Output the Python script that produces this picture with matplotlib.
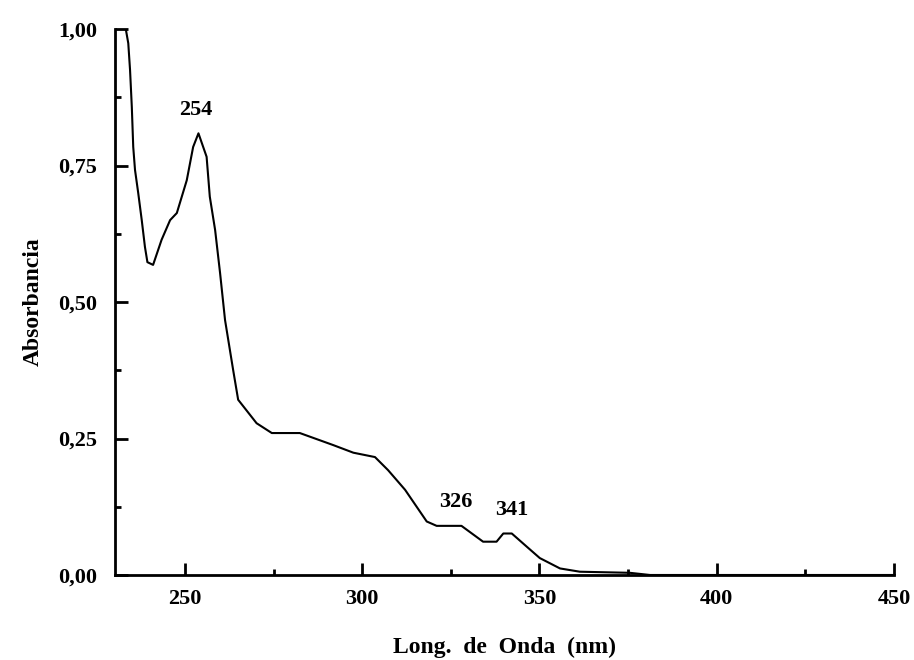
import matplotlib
matplotlib.use("Agg")
import matplotlib.pyplot as plt
from matplotlib.ticker import MultipleLocator, FuncFormatter

# espectro UV
wavelength = [233.35, 234.0, 234.5, 235.0, 235.4, 235.9, 236.8, 237.8, 238.7, 239.4,
              241.0, 243.4, 245.8, 247.7, 250.5, 252.3, 253.8, 256.1, 257.0, 258.5,
              259.9, 261.3, 263.6, 265.0, 270.2, 274.5, 282.4, 291.8, 297.5, 303.6,
              307.3, 312.1, 318.2, 321.0, 328.0, 334.1, 337.9, 339.8, 342.2, 346.4,
              350.1, 355.8, 361.4, 375.5, 381.2, 450.0]
absorb = [0.998, 0.974, 0.925, 0.857, 0.784, 0.742, 0.700, 0.650, 0.601, 0.573,
          0.568, 0.614, 0.650, 0.663, 0.723, 0.784, 0.809, 0.766, 0.693, 0.632,
          0.553, 0.467, 0.375, 0.321, 0.278, 0.260, 0.260, 0.238, 0.224, 0.216,
          0.192, 0.156, 0.098, 0.090, 0.090, 0.061, 0.061, 0.076, 0.076, 0.052,
          0.031, 0.012, 0.006, 0.004, 0.0, 0.0]

peaks = ['254', '326', '341']
peak_x = [253.1, 326.3, 342.2]
peak_y = [0.852, 0.134, 0.119]

plt.rcParams['font.family'] = ['Liberation Serif', 'DejaVu Serif']
plt.rcParams['font.weight'] = 'bold'

fig = plt.figure(figsize=(9.14, 6.6), dpi=100)
ax = fig.add_axes([0.1258, 0.1288, 0.978 - 0.1258, 0.956 - 0.1288])

ax.plot(wavelength, absorb, color='black', linewidth=1.5)
for lab, px, py in zip(peaks, peak_x, peak_y):
    ax.text(px, py, lab, ha='center', va='center', fontsize=16, fontweight='bold')

ax.set_xlim(230.25, 450)
ax.set_ylim(0, 1.0)
ax.spines['top'].set_visible(False)
ax.spines['right'].set_visible(False)
ax.spines['left'].set_linewidth(2)
ax.spines['bottom'].set_linewidth(2)

ax.xaxis.set_major_locator(MultipleLocator(50))
ax.xaxis.set_minor_locator(MultipleLocator(25))
ax.yaxis.set_major_locator(MultipleLocator(0.25))
ax.yaxis.set_minor_locator(MultipleLocator(0.125))
ax.yaxis.set_major_formatter(FuncFormatter(lambda v, p: f"{v:.2f}".replace('.', ',')))
ax.tick_params(which='major', direction='in', length=9, width=2, labelsize=16, pad=10)
ax.tick_params(which='minor', direction='in', length=4, width=2)
ax.tick_params(axis='y', pad=13)
for t in ax.get_xticklabels() + ax.get_yticklabels():
    t.set_fontweight('bold')

ax.set_xlabel('Long.  de  Onda  (nm)', fontsize=17, fontweight='bold', labelpad=20)
ax.set_ylabel('Absorbancia', fontsize=17, fontweight='bold', labelpad=10)

fig.savefig('out.png', dpi=100)
